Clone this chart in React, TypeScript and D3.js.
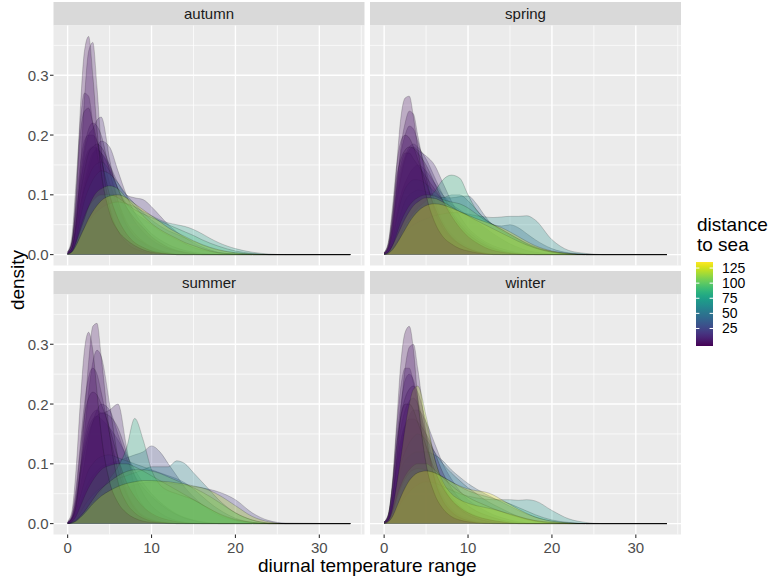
import React from "react";
import * as d3 from "d3";

// Evaluation grid of the density curves (diurnal temperature range)
const X_GRID = [0, 0.5, 1, 1.5, 2, 2.5, 3, 3.5, 4, 5, 6, 7, 8, 9, 10, 11, 12, 13, 14, 15, 16, 17, 18, 20, 22, 24, 26, 33.7];

const FACETS = ["autumn", "spring", "summer", "winter"];

const AUTUMN_DIST = [40, 1, 105, 6, 75, 4, 10, 125, 6, 15, 55, 8, 90, 9, 2, 12, 5];
const AUTUMN_DENSITY = [
  [0.002,0.01,0.04,0.08,0.11,0.13,0.145,0.152,0.155,0.14,0.11,0.085,0.07,0.06,0.05,0.04,0.032,0.025,0.018,0.012,0.008,0.005,0.003,0.001,0,0,0,0],
  [0.005,0.02,0.09,0.24,0.34,0.365,0.30,0.21,0.14,0.07,0.04,0.025,0.015,0.008,0.004,0.002,0.001,0,0,0,0,0,0,0,0,0,0,0],
  [0.001,0.005,0.02,0.04,0.06,0.08,0.095,0.105,0.11,0.115,0.11,0.095,0.08,0.065,0.052,0.042,0.034,0.027,0.02,0.015,0.01,0.006,0.003,0.001,0,0,0,0],
  [0.005,0.03,0.12,0.22,0.27,0.265,0.22,0.17,0.13,0.08,0.05,0.03,0.02,0.012,0.007,0.004,0.002,0,0,0,0,0,0,0,0,0,0,0],
  [0.001,0.005,0.015,0.03,0.045,0.055,0.065,0.072,0.078,0.085,0.088,0.085,0.08,0.072,0.065,0.058,0.053,0.05,0.047,0.042,0.035,0.027,0.02,0.01,0.004,0.001,0,0],
  [0.003,0.01,0.05,0.14,0.26,0.34,0.355,0.28,0.18,0.08,0.04,0.02,0.01,0.005,0.002,0,0,0,0,0,0,0,0,0,0,0,0,0],
  [0.002,0.01,0.05,0.11,0.17,0.2,0.21,0.225,0.23,0.16,0.09,0.05,0.03,0.02,0.012,0.006,0.003,0,0,0,0,0,0,0,0,0,0,0],
  [0.001,0.004,0.015,0.03,0.045,0.06,0.072,0.082,0.09,0.098,0.1,0.095,0.085,0.075,0.065,0.055,0.045,0.037,0.03,0.023,0.017,0.012,0.008,0.003,0.001,0,0,0],
  [0.003,0.015,0.06,0.13,0.18,0.21,0.22,0.215,0.2,0.14,0.09,0.055,0.035,0.022,0.013,0.007,0.003,0.001,0,0,0,0,0,0,0,0,0,0],
  [0.002,0.01,0.04,0.08,0.12,0.15,0.17,0.175,0.17,0.15,0.12,0.1,0.095,0.092,0.08,0.065,0.05,0.038,0.028,0.02,0.013,0.008,0.004,0.001,0,0,0,0],
  [0.001,0.006,0.025,0.06,0.09,0.11,0.125,0.135,0.14,0.135,0.12,0.1,0.085,0.07,0.058,0.048,0.04,0.034,0.028,0.022,0.016,0.011,0.007,0.003,0.001,0,0,0],
  [0.003,0.02,0.08,0.15,0.19,0.2,0.2,0.19,0.17,0.12,0.08,0.05,0.03,0.02,0.01,0.005,0.002,0,0,0,0,0,0,0,0,0,0,0],
  [0.001,0.005,0.02,0.045,0.065,0.08,0.09,0.097,0.1,0.1,0.095,0.085,0.075,0.068,0.062,0.056,0.05,0.044,0.038,0.032,0.025,0.019,0.014,0.006,0.002,0,0,0],
  [0.004,0.02,0.07,0.12,0.155,0.175,0.18,0.178,0.17,0.145,0.11,0.08,0.055,0.038,0.025,0.016,0.01,0.006,0.003,0.001,0,0,0,0,0,0,0,0],
  [0.004,0.02,0.1,0.2,0.24,0.245,0.22,0.19,0.16,0.1,0.06,0.035,0.02,0.012,0.006,0.003,0.001,0,0,0,0,0,0,0,0,0,0,0],
  [0.001,0.006,0.03,0.07,0.11,0.14,0.165,0.18,0.19,0.18,0.14,0.1,0.07,0.05,0.035,0.025,0.017,0.011,0.007,0.004,0.002,0.001,0,0,0,0,0,0],
  [0.002,0.01,0.05,0.1,0.14,0.17,0.18,0.185,0.18,0.15,0.11,0.08,0.06,0.045,0.03,0.02,0.012,0.007,0.004,0.002,0,0,0,0,0,0,0,0],
];

const SPRING_DIST = [38, 1, 85, 7, 65, 2, 4, 100, 10, 130, 3, 50, 5, 14, 20, 115];
const SPRING_DENSITY = [
  [0.001,0.005,0.02,0.045,0.07,0.09,0.1,0.105,0.108,0.105,0.1,0.095,0.095,0.097,0.098,0.085,0.065,0.05,0.048,0.05,0.045,0.035,0.025,0.01,0.003,0.001,0,0],
  [0.003,0.015,0.06,0.15,0.23,0.262,0.265,0.23,0.18,0.1,0.055,0.03,0.018,0.01,0.006,0.003,0.001,0,0,0,0,0,0,0,0,0,0,0],
  [0,0.003,0.01,0.02,0.035,0.05,0.06,0.07,0.078,0.09,0.105,0.125,0.133,0.128,0.1,0.075,0.06,0.05,0.042,0.034,0.026,0.018,0.012,0.005,0.002,0,0,0],
  [0.003,0.015,0.06,0.12,0.17,0.2,0.215,0.21,0.19,0.14,0.09,0.055,0.035,0.022,0.013,0.007,0.003,0.001,0,0,0,0,0,0,0,0,0,0],
  [0.001,0.003,0.01,0.02,0.03,0.038,0.045,0.05,0.054,0.06,0.065,0.068,0.07,0.07,0.068,0.065,0.063,0.062,0.063,0.064,0.064,0.065,0.058,0.025,0.007,0.002,0,0],
  [0.003,0.02,0.07,0.13,0.16,0.175,0.18,0.178,0.17,0.15,0.12,0.09,0.065,0.045,0.03,0.02,0.012,0.007,0.004,0.002,0.001,0,0,0,0,0,0,0],
  [0.002,0.01,0.04,0.11,0.18,0.22,0.24,0.235,0.2,0.13,0.075,0.045,0.028,0.017,0.01,0.005,0.002,0.001,0,0,0,0,0,0,0,0,0,0],
  [0.001,0.004,0.015,0.035,0.055,0.07,0.082,0.09,0.095,0.1,0.098,0.092,0.088,0.085,0.078,0.068,0.058,0.05,0.042,0.034,0.026,0.019,0.013,0.005,0.001,0,0,0],
  [0.002,0.01,0.04,0.09,0.13,0.16,0.175,0.18,0.175,0.165,0.15,0.12,0.09,0.065,0.045,0.032,0.022,0.015,0.01,0.006,0.003,0.001,0,0,0,0,0,0],
  [0,0.002,0.008,0.018,0.03,0.042,0.054,0.064,0.072,0.082,0.085,0.083,0.078,0.072,0.066,0.06,0.055,0.05,0.045,0.038,0.03,0.022,0.015,0.006,0.002,0,0,0],
  [0.004,0.02,0.08,0.15,0.19,0.2,0.195,0.18,0.16,0.12,0.08,0.05,0.03,0.018,0.01,0.005,0.002,0,0,0,0,0,0,0,0,0,0,0],
  [0.001,0.006,0.025,0.06,0.09,0.11,0.12,0.125,0.125,0.118,0.105,0.095,0.1,0.1,0.09,0.075,0.06,0.05,0.04,0.032,0.024,0.017,0.011,0.004,0.001,0,0,0],
  [0.002,0.012,0.05,0.11,0.15,0.17,0.17,0.16,0.15,0.13,0.11,0.09,0.07,0.05,0.035,0.024,0.016,0.01,0.006,0.003,0.001,0,0,0,0,0,0,0],
  [0.002,0.012,0.05,0.1,0.14,0.165,0.18,0.185,0.18,0.16,0.13,0.1,0.075,0.055,0.04,0.028,0.019,0.012,0.007,0.004,0.002,0.001,0,0,0,0,0,0],
  [0.002,0.01,0.035,0.07,0.1,0.12,0.135,0.145,0.15,0.14,0.12,0.1,0.085,0.075,0.065,0.055,0.045,0.035,0.026,0.018,0.012,0.007,0.004,0.001,0,0,0,0],
  [0.001,0.004,0.015,0.03,0.045,0.06,0.072,0.082,0.088,0.095,0.094,0.088,0.08,0.072,0.065,0.057,0.05,0.043,0.036,0.029,0.022,0.016,0.011,0.004,0.001,0,0,0],
];

const SUMMER_DIST = [2, 80, 1, 25, 5, 60, 3, 8, 105, 12, 120, 95, 45, 6, 20, 15, 4];
const SUMMER_DENSITY = [
  [0.002,0.008,0.03,0.09,0.18,0.27,0.33,0.335,0.28,0.15,0.07,0.035,0.018,0.009,0.004,0.002,0.001,0,0,0,0,0,0,0,0,0,0,0],
  [0,0.002,0.006,0.012,0.02,0.028,0.036,0.045,0.055,0.075,0.095,0.125,0.176,0.14,0.09,0.065,0.055,0.05,0.045,0.04,0.032,0.024,0.016,0.006,0.002,0,0,0],
  [0.004,0.02,0.09,0.2,0.29,0.32,0.29,0.22,0.15,0.07,0.035,0.018,0.009,0.004,0.002,0.001,0,0,0,0,0,0,0,0,0,0,0,0],
  [0.001,0.004,0.015,0.035,0.055,0.07,0.08,0.088,0.095,0.1,0.105,0.11,0.115,0.12,0.13,0.12,0.1,0.08,0.06,0.045,0.032,0.022,0.014,0.005,0.001,0,0,0],
  [0.002,0.008,0.03,0.08,0.15,0.22,0.27,0.29,0.28,0.2,0.11,0.055,0.028,0.014,0.007,0.003,0.001,0,0,0,0,0,0,0,0,0,0,0],
  [0,0.002,0.008,0.018,0.03,0.04,0.048,0.055,0.06,0.068,0.075,0.08,0.085,0.09,0.095,0.095,0.095,0.105,0.1,0.085,0.07,0.055,0.04,0.018,0.006,0.001,0,0],
  [0.002,0.012,0.05,0.12,0.18,0.21,0.22,0.215,0.2,0.16,0.11,0.07,0.045,0.028,0.017,0.01,0.006,0.003,0.001,0,0,0,0,0,0,0,0,0],
  [0.002,0.01,0.04,0.09,0.14,0.17,0.185,0.19,0.185,0.19,0.2,0.13,0.06,0.03,0.015,0.007,0.003,0.001,0,0,0,0,0,0,0,0,0,0],
  [0,0.001,0.005,0.012,0.02,0.03,0.04,0.05,0.058,0.07,0.08,0.087,0.09,0.09,0.088,0.084,0.078,0.072,0.066,0.06,0.053,0.045,0.036,0.018,0.006,0.001,0,0],
  [0.001,0.006,0.025,0.06,0.1,0.14,0.17,0.19,0.2,0.19,0.15,0.11,0.08,0.06,0.045,0.033,0.023,0.015,0.009,0.005,0.002,0.001,0,0,0,0,0,0],
  [0,0.001,0.004,0.01,0.017,0.025,0.033,0.04,0.046,0.055,0.062,0.067,0.07,0.072,0.072,0.071,0.07,0.068,0.066,0.063,0.06,0.055,0.048,0.03,0.012,0.003,0,0],
  [0,0.003,0.012,0.028,0.045,0.06,0.072,0.082,0.09,0.097,0.1,0.1,0.095,0.088,0.08,0.072,0.064,0.056,0.048,0.04,0.032,0.024,0.017,0.007,0.002,0,0,0],
  [0.001,0.005,0.02,0.045,0.07,0.09,0.1,0.108,0.112,0.115,0.11,0.105,0.1,0.095,0.09,0.085,0.08,0.075,0.068,0.058,0.046,0.034,0.024,0.009,0.002,0,0,0],
  [0.001,0.008,0.035,0.08,0.12,0.15,0.17,0.18,0.185,0.18,0.16,0.12,0.08,0.05,0.03,0.018,0.01,0.005,0.002,0.001,0,0,0,0,0,0,0,0],
  [0,0.001,0.003,0.007,0.012,0.018,0.024,0.03,0.036,0.045,0.053,0.06,0.065,0.068,0.07,0.07,0.068,0.066,0.064,0.062,0.06,0.057,0.053,0.04,0.018,0.005,0.001,0],
  [0.002,0.01,0.04,0.09,0.13,0.16,0.175,0.18,0.175,0.16,0.14,0.115,0.09,0.068,0.05,0.036,0.025,0.016,0.01,0.006,0.003,0.001,0,0,0,0,0,0],
  [0.003,0.015,0.06,0.13,0.2,0.245,0.26,0.25,0.22,0.15,0.09,0.05,0.025,0.012,0.006,0.003,0.001,0,0,0,0,0,0,0,0,0,0,0],
];

const WINTER_DIST = [42, 1, 70, 7, 2, 120, 4, 100, 12, 130, 6, 18, 55, 85, 5, 9];
const WINTER_DENSITY = [
  [0.001,0.006,0.03,0.065,0.09,0.105,0.113,0.118,0.12,0.12,0.115,0.105,0.09,0.078,0.067,0.058,0.05,0.043,0.036,0.029,0.022,0.016,0.011,0.004,0.001,0,0,0],
  [0.003,0.015,0.07,0.17,0.27,0.32,0.33,0.29,0.21,0.1,0.05,0.025,0.012,0.006,0.003,0.001,0,0,0,0,0,0,0,0,0,0,0,0],
  [0,0.003,0.01,0.022,0.035,0.045,0.053,0.06,0.065,0.07,0.068,0.062,0.056,0.05,0.046,0.043,0.041,0.04,0.04,0.04,0.039,0.04,0.038,0.022,0.008,0.002,0,0],
  [0.003,0.015,0.07,0.16,0.23,0.26,0.26,0.235,0.2,0.13,0.075,0.04,0.022,0.012,0.006,0.003,0.001,0,0,0,0,0,0,0,0,0,0,0],
  [0.003,0.015,0.06,0.13,0.18,0.2,0.2,0.19,0.17,0.13,0.09,0.06,0.04,0.027,0.018,0.012,0.008,0.005,0.003,0.001,0,0,0,0,0,0,0,0],
  [0.001,0.005,0.025,0.065,0.11,0.16,0.2,0.225,0.23,0.18,0.11,0.07,0.05,0.04,0.034,0.03,0.027,0.024,0.02,0.016,0.012,0.008,0.005,0.002,0.001,0,0,0],
  [0.002,0.01,0.04,0.11,0.19,0.26,0.295,0.3,0.26,0.15,0.075,0.038,0.02,0.01,0.005,0.002,0.001,0,0,0,0,0,0,0,0,0,0,0],
  [0.001,0.005,0.02,0.045,0.065,0.08,0.09,0.097,0.1,0.1,0.09,0.077,0.064,0.053,0.044,0.037,0.031,0.025,0.02,0.015,0.011,0.007,0.004,0.001,0,0,0,0],
  [0.002,0.01,0.05,0.11,0.16,0.19,0.205,0.21,0.2,0.15,0.1,0.065,0.045,0.03,0.02,0.013,0.008,0.005,0.003,0.001,0,0,0,0,0,0,0,0],
  [0,0.003,0.012,0.028,0.045,0.06,0.072,0.08,0.085,0.088,0.085,0.078,0.07,0.063,0.058,0.055,0.053,0.048,0.04,0.032,0.024,0.017,0.011,0.004,0.001,0,0,0],
  [0.002,0.01,0.045,0.1,0.14,0.165,0.175,0.175,0.17,0.15,0.12,0.085,0.06,0.042,0.03,0.021,0.015,0.01,0.006,0.003,0.001,0,0,0,0,0,0,0],
  [0.001,0.008,0.04,0.09,0.13,0.16,0.18,0.19,0.19,0.17,0.135,0.1,0.075,0.055,0.04,0.03,0.022,0.015,0.01,0.006,0.003,0.001,0,0,0,0,0,0],
  [0.001,0.006,0.03,0.07,0.1,0.12,0.135,0.145,0.15,0.14,0.12,0.1,0.085,0.072,0.06,0.05,0.04,0.032,0.025,0.018,0.012,0.008,0.005,0.002,0,0,0,0],
  [0.001,0.004,0.018,0.04,0.06,0.075,0.085,0.09,0.092,0.09,0.085,0.078,0.07,0.062,0.055,0.05,0.046,0.042,0.038,0.033,0.027,0.021,0.015,0.006,0.002,0,0,0],
  [0.003,0.015,0.065,0.13,0.18,0.21,0.225,0.23,0.22,0.17,0.11,0.065,0.04,0.025,0.015,0.009,0.005,0.002,0.001,0,0,0,0,0,0,0,0,0],
  [0.002,0.012,0.06,0.14,0.2,0.24,0.25,0.24,0.21,0.14,0.08,0.045,0.025,0.014,0.008,0.004,0.002,0.001,0,0,0,0,0,0,0,0,0,0],
];

const FACET_DIST = [AUTUMN_DIST, SPRING_DIST, SUMMER_DIST, WINTER_DIST];
const FACET_DENSITY = [AUTUMN_DENSITY, SPRING_DENSITY, SUMMER_DENSITY, WINTER_DENSITY];

const X_TICKS = [0, 10, 20, 30];
const X_MINOR = [5, 15, 25, 35];
const Y_TICKS = [0, 0.1, 0.2, 0.3];
const Y_MINOR = [0.05, 0.15, 0.25, 0.35];
const DIST_TICKS = [25, 50, 75, 100, 125];
const DIST_LIMITS = [-4, 135];

const FONT = "'Liberation Sans', Arial, Helvetica, sans-serif";
const W = 771;
const H = 578;
const PANEL_LEFT = [53.5, 370];
const PANEL_W = 311;
const ROW_TOP = [2, 271];
const STRIP_H = 23.5;
const PANEL_H = 240;

// drawing order: coastal and inland stations interleaved, so neither hue dominates the overlap
function drawOrder(dist: number[]): number[] {
  const idx = d3.range(dist.length);
  const low = idx.filter((i) => dist[i] < 30).sort((a, b) => dist[b] - dist[a]);
  const high = idx.filter((i) => dist[i] >= 30).sort((a, b) => dist[a] - dist[b]);
  const out: number[] = [];
  const extra = Math.max(0, low.length - high.length);
  out.push(...low.slice(0, extra));
  const rest = low.slice(extra);
  for (let i = 0; i < Math.max(rest.length, high.length); i++) {
    if (i < rest.length) out.push(rest[i]);
    if (i < high.length) out.push(high[i]);
  }
  return out;
}

export default function App() {
  const xExtent = d3.extent(X_GRID) as [number, number];
  const xr = xExtent[1] - xExtent[0];
  const yMax = d3.max(FACET_DENSITY.flat(2)) as number;
  const color = d3.scaleSequential(d3.interpolateViridis).domain(DIST_LIMITS);

  const legendY = d3.scaleLinear().domain(DIST_LIMITS).range([346, 262]);
  const gradStops = d3.range(0, 1.0001, 0.05);

  return (
    <svg width={W} height={H} style={{ position: "absolute", left: 0, top: 0, background: "#fff" }} fontFamily={FONT}>
      <defs>
        <linearGradient id="vir" x1="0" y1="1" x2="0" y2="0">
          {gradStops.map((t, i) => (
            <stop key={i} offset={t} stopColor={d3.interpolateViridis(t)} />
          ))}
        </linearGradient>
      </defs>
      <rect x={0} y={0} width={W} height={H} fill="#fff" />
      {FACETS.map((name, fi) => {
        const col = fi % 2;
        const row = Math.floor(fi / 2);
        const left = PANEL_LEFT[col];
        const top = ROW_TOP[row] + STRIP_H;
        const x = d3.scaleLinear().domain([xExtent[0] - 0.05 * xr, xExtent[1] + 0.05 * xr]).range([left, left + PANEL_W]);
        const y = d3.scaleLinear().domain([-0.05 * yMax, 1.05 * yMax]).range([top + PANEL_H, top]);
        const area = d3.area<number>()
          .x((_, i) => x(X_GRID[i]))
          .y0(y(0))
          .y1((d) => y(d))
          .curve(d3.curveMonotoneX);
        const line = d3.line<number>()
          .x((_, i) => x(X_GRID[i]))
          .y((d) => y(d))
          .curve(d3.curveMonotoneX);
        const dens = FACET_DENSITY[fi];
        const dist = FACET_DIST[fi];
        const order = drawOrder(dist);
        return (
          <g key={name}>
            <rect x={left} y={ROW_TOP[row]} width={PANEL_W} height={STRIP_H} fill="#D9D9D9" />
            <text x={left + PANEL_W / 2} y={ROW_TOP[row] + STRIP_H / 2} textAnchor="middle" dominantBaseline="central" fontSize={15} fill="#1A1A1A">{name}</text>
            <rect x={left} y={top} width={PANEL_W} height={PANEL_H} fill="#EBEBEB" />
            {Y_MINOR.map((v) => (
              <line key={"ym" + v} x1={left} x2={left + PANEL_W} y1={y(v)} y2={y(v)} stroke="#fff" strokeWidth={0.7} />
            ))}
            {X_MINOR.map((v) => (
              <line key={"xm" + v} x1={x(v)} x2={x(v)} y1={top} y2={top + PANEL_H} stroke="#fff" strokeWidth={0.7} />
            ))}
            {Y_TICKS.map((v) => (
              <line key={"y" + v} x1={left} x2={left + PANEL_W} y1={y(v)} y2={y(v)} stroke="#fff" strokeWidth={1.4} />
            ))}
            {X_TICKS.map((v) => (
              <line key={"x" + v} x1={x(v)} x2={x(v)} y1={top} y2={top + PANEL_H} stroke="#fff" strokeWidth={1.4} />
            ))}
            {order.map((k) => (
              <g key={"c" + k}>
                <path d={area(dens[k]) as string} fill={color(dist[k])} fillOpacity={0.28} stroke="none" />
                <path d={line(dens[k]) as string} fill="none" stroke="#000" strokeOpacity={0.3} strokeWidth={0.6} />
              </g>
            ))}
            {col === 0 &&
              Y_TICKS.map((v) => (
                <g key={"yt" + v}>
                  <line x1={left - 3.5} x2={left} y1={y(v)} y2={y(v)} stroke="#333" strokeWidth={1.1} />
                  <text x={left - 5} y={y(v)} textAnchor="end" dominantBaseline="central" fontSize={15} fill="#4D4D4D">{v.toFixed(1)}</text>
                </g>
              ))}
            {row === 1 &&
              X_TICKS.map((v) => (
                <g key={"xt" + v}>
                  <line x1={x(v)} x2={x(v)} y1={top + PANEL_H} y2={top + PANEL_H + 3.5} stroke="#333" strokeWidth={1.1} />
                  <text x={x(v)} y={top + PANEL_H + 13} textAnchor="middle" dominantBaseline="central" fontSize={15} fill="#4D4D4D">{v}</text>
                </g>
              ))}
          </g>
        );
      })}
      <text x={(PANEL_LEFT[0] + PANEL_LEFT[1] + PANEL_W) / 2} y={572} textAnchor="middle" fontSize={19} fill="#000">diurnal temperature range</text>
      <text transform={`translate(24,${(ROW_TOP[0] + STRIP_H + ROW_TOP[1] + STRIP_H + PANEL_H) / 2}) rotate(-90)`} textAnchor="middle" fontSize={19} fill="#000">density</text>
      <text x={697} y={231} fontSize={19} fill="#000">distance</text>
      <text x={697} y={251} fontSize={19} fill="#000">to sea</text>
      <rect x={696} y={262} width={17} height={84} fill="url(#vir)" />
      {DIST_TICKS.map((v) => (
        <g key={"lt" + v}>
          <line x1={696} x2={699.4} y1={legendY(v)} y2={legendY(v)} stroke="#fff" strokeWidth={1} />
          <line x1={709.6} x2={713} y1={legendY(v)} y2={legendY(v)} stroke="#fff" strokeWidth={1} />
          <text x={722} y={legendY(v)} dominantBaseline="central" fontSize={14} fill="#000">{v}</text>
        </g>
      ))}
    </svg>
  );
}
